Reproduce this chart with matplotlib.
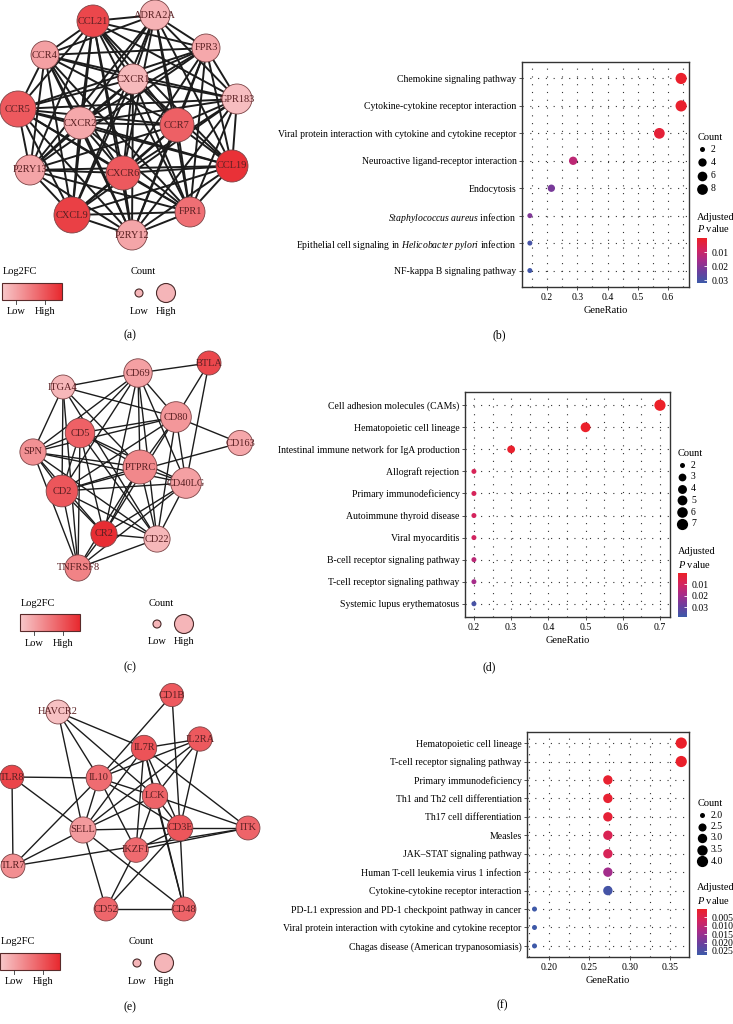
import numpy as np
import matplotlib
matplotlib.use('Agg')
import matplotlib.pyplot as plt
from itertools import combinations
from matplotlib.patches import Circle, Rectangle
from matplotlib.colors import LinearSegmentedColormap, Normalize
from matplotlib.cm import ScalarMappable
from matplotlib.ticker import MultipleLocator, FormatStrFormatter

plt.rcParams['font.family'] = ['Liberation Serif', 'DejaVu Serif']
plt.rcParams['mathtext.fontset'] = 'custom'
plt.rcParams['mathtext.rm'] = 'Liberation Serif'
plt.rcParams['mathtext.it'] = 'Liberation Serif:italic'

W, H = 733, 1024

# ---------------- network data ----------------
# (a) chemokine network
a_nodes = ['CCL21', 'ADRA2A', 'FPR3', 'CCR4', 'CXCR1', 'GPR183', 'CCR5', 'CXCR2',
           'CCR7', 'P2RY13', 'CXCR6', 'CCL19', 'CXCL9', 'FPR1', 'P2RY12']
a_log2fc = [3.46, 1.42, 1.60, 1.75, 1.30, 1.21, 3.10, 1.60, 2.98, 1.69, 3.10, 3.85, 3.58, 2.68, 1.66]
a_count = [12, 11, 10, 10, 11, 11, 14, 12, 13, 11, 13, 12, 14, 11, 11]
a_missing = [('ADRA2A', 'P2RY12'), ('GPR183', 'P2RY13'), ('CCR4', 'CCL19'),
             ('FPR3', 'CXCL9'), ('ADRA2A', 'CCR5')]
a_edges = [p for p in combinations(a_nodes, 2)
           if p not in a_missing and p[::-1] not in a_missing]
# layout (pixel positions of the drawing)
a_x = [93, 155, 206, 45, 133, 237, 18, 80, 177, 30, 123, 232, 72, 190, 132]
a_y = [21, 15, 48, 55, 79, 99, 109, 123, 125, 170, 173, 166, 215, 212, 235]

# (c) immune network
c_nodes = ['BTLA', 'CD69', 'ITGA4', 'CD80', 'CD163', 'CD5', 'SPN', 'PTPRC',
           'CD40LG', 'CD2', 'CR2', 'CD22', 'TNFRSF8']
c_log2fc = [3.46, 1.75, 1.33, 1.93, 1.63, 2.95, 2.05, 2.23, 1.75, 3.16, 3.94, 1.33, 2.32]
c_count = [3, 7, 3, 9, 4, 8, 5, 12, 9, 10, 5, 5, 5]
c_edges = [('BTLA', 'CD69'), ('BTLA', 'CD80'), ('BTLA', 'CD40LG'),
           ('CD69', 'ITGA4'), ('CD69', 'SPN'), ('CD69', 'CD5'), ('CD69', 'CD80'),
           ('CD69', 'PTPRC'), ('CD69', 'CD40LG'), ('CD69', 'CD22'), ('CD69', 'CR2'),
           ('CD69', 'CD2'), ('ITGA4', 'CD80'), ('ITGA4', 'SPN'), ('ITGA4', 'CD2'),
           ('ITGA4', 'PTPRC'), ('ITGA4', 'CD22'), ('ITGA4', 'TNFRSF8'),
           ('CD80', 'CD5'), ('CD80', 'SPN'), ('CD80', 'CD163'), ('CD80', 'PTPRC'),
           ('CD80', 'CD40LG'), ('CD80', 'CD2'), ('CD80', 'CR2'), ('CD80', 'CD22'),
           ('CD163', 'CD2'), ('CD5', 'SPN'), ('CD5', 'PTPRC'), ('CD5', 'CD40LG'),
           ('CD5', 'CD2'), ('CD5', 'CR2'), ('CD5', 'CD22'), ('CD5', 'TNFRSF8'),
           ('SPN', 'PTPRC'), ('SPN', 'CD40LG'), ('SPN', 'CD2'), ('SPN', 'CR2'),
           ('SPN', 'CD22'), ('SPN', 'TNFRSF8'), ('PTPRC', 'CD40LG'), ('PTPRC', 'CD2'),
           ('PTPRC', 'CR2'), ('PTPRC', 'TNFRSF8'), ('PTPRC', 'CD22'),
           ('CD40LG', 'CD2'), ('CD40LG', 'CR2'), ('CD40LG', 'TNFRSF8'),
           ('CD40LG', 'CD22'), ('CD2', 'CR2'), ('CD2', 'CD22'), ('CD2', 'TNFRSF8'),
           ('CR2', 'CD22'), ('CR2', 'TNFRSF8'), ('CD22', 'TNFRSF8')]
c_x = [209, 138, 63, 176, 240, 80, 33, 140, 186, 62, 104, 157, 78]
c_y = [363, 373, 387, 417, 443, 433, 452, 467, 483, 491, 534, 539, 568]

# (e) T-cell network
e_nodes = ['CD1B', 'HAVCR2', 'IL2RA', 'IL7R', 'TLR8', 'IL10', 'LCK', 'SELL',
           'CD3E', 'ITK', 'IKZF1', 'TLR7', 'CD52', 'CD48']
e_log2fc = [3.10, 1.15, 3.10, 3.22, 3.49, 2.74, 2.92, 1.87, 3.16, 2.89, 2.77, 2.11, 2.86, 2.89]
e_count = [2, 4, 5, 8, 3, 9, 8, 10, 9, 4, 6, 4, 4, 4]
e_edges = [('CD1B', 'IL10'), ('CD1B', 'CD3E'), ('HAVCR2', 'IL7R'), ('HAVCR2', 'IL10'),
           ('HAVCR2', 'SELL'), ('HAVCR2', 'LCK'), ('IL2RA', 'IL7R'), ('IL2RA', 'IL10'),
           ('IL2RA', 'SELL'), ('IL2RA', 'LCK'), ('IL2RA', 'CD3E'), ('IL7R', 'IL10'),
           ('IL7R', 'SELL'), ('IL7R', 'LCK'), ('IL7R', 'CD3E'), ('IL7R', 'IKZF1'),
           ('IL7R', 'ITK'), ('IL7R', 'CD48'), ('TLR8', 'IL10'), ('TLR8', 'TLR7'),
           ('TLR8', 'SELL'), ('IL10', 'LCK'), ('IL10', 'SELL'), ('IL10', 'CD3E'),
           ('IL10', 'IKZF1'), ('IL10', 'TLR7'), ('LCK', 'SELL'), ('LCK', 'CD3E'),
           ('LCK', 'IKZF1'), ('LCK', 'ITK'), ('LCK', 'CD48'), ('SELL', 'CD3E'),
           ('SELL', 'TLR7'), ('SELL', 'CD52'), ('SELL', 'CD48'), ('CD3E', 'ITK'),
           ('CD3E', 'IKZF1'), ('CD3E', 'CD52'), ('CD3E', 'CD48'), ('TLR7', 'ITK'),
           ('IKZF1', 'ITK'), ('IKZF1', 'CD52'), ('CD52', 'CD48')]
e_x = [172, 58, 200, 144, 12, 99, 155, 83, 180, 248, 136, 13, 106, 184]
e_y = [695, 712, 739, 748, 777, 778, 796, 830, 828, 828, 850, 866, 909, 909]

# ---------------- enrichment data ----------------
b_terms = ['Chemokine signaling pathway', 'Cytokine-cytokine receptor interaction',
           'Viral protein interaction with cytokine and cytokine receptor',
           'Neuroactive ligand-receptor interaction', 'Endocytosis',
           r'$\it{Staphylococcus\ aureus}$ infection',
           r'Epithelial cell signaling in $\it{Helicobacter\ pylori}$ infection',
           'NF-kappa B signaling pathway']
b_ratio = [0.643, 0.643, 0.571, 0.286, 0.214, 0.143, 0.143, 0.143]
b_count = [9, 9, 8, 4, 3, 2, 2, 2]
b_padj = [0.0008, 0.0010, 0.0025, 0.012, 0.022, 0.021, 0.030, 0.031]

d_terms = ['Cell adhesion molecules (CAMs)', 'Hematopoietic cell lineage',
           'Intestinal immune network for IgA production', 'Allograft rejection',
           'Primary immunodeficiency', 'Autoimmune thyroid disease', 'Viral myocarditis',
           'B-cell receptor signaling pathway', 'T-cell receptor signaling pathway',
           'Systemic lupus erythematosus']
d_ratio = [0.7, 0.5, 0.3, 0.2, 0.2, 0.2, 0.2, 0.2, 0.2, 0.2]
d_count = [7, 5, 3, 2, 2, 2, 2, 2, 2, 2]
d_padj = [0.0002, 0.0006, 0.0012, 0.0085, 0.009, 0.0095, 0.010, 0.015, 0.019, 0.036]

f_terms = ['Hematopoietic cell lineage', 'T-cell receptor signaling pathway',
           'Primary immunodeficiency', 'Th1 and Th2 cell differentiation',
           'Th17 cell differentiation', 'Measles', 'JAK\u2013STAT signaling pathway',
           'Human T-cell leukemia virus 1 infection', 'Cytokine-cytokine receptor interaction',
           'PD-L1 expression and PD-1 checkpoint pathway in cancer',
           'Viral protein interaction with cytokine and cytokine receptor',
           'Chagas disease (American trypanosomiasis)']
f_ratio = [0.364, 0.364, 0.273, 0.273, 0.273, 0.273, 0.273, 0.273, 0.273, 0.182, 0.182, 0.182]
f_count = [4, 4, 3, 3, 3, 3, 3, 3, 3, 2, 2, 2]
f_padj = [0.0005, 0.0006, 0.0012, 0.0014, 0.002, 0.0055, 0.006, 0.014, 0.026, 0.027, 0.027, 0.027]

# ---------------- styles ----------------
cmap_fc = LinearSegmentedColormap.from_list('fc', ['#f8c8ca', '#e82a30'])
norm_fc = Normalize(1.0, 4.0)
cmap_p = LinearSegmentedColormap.from_list(
    'p', ['#ec2027', '#d4245e', '#a52c8a', '#6a3f9e', '#3c5aa8'])
LABEL_COL = '#5a1f22'

fig = plt.figure(figsize=(W / 100, H / 100), dpi=100)
bg = fig.add_axes([0, 0, 1, 1], zorder=0)


def draw_network(names, xs, ys, fc, counts, edges, r_min, r_step, lw):
    pos = {n: (x, y) for n, x, y in zip(names, xs, ys)}
    for u, v in edges:
        bg.plot([pos[u][0], pos[v][0]], [pos[u][1], pos[v][1]],
                color='#1c1c1c', lw=lw, zorder=1)
    cmin = min(counts)
    for n, x, y, f, c in zip(names, xs, ys, fc, counts):
        r = r_min + r_step * (c - cmin)
        bg.add_patch(Circle((x, y), r, fc=cmap_fc(norm_fc(f)), ec='#7c4446',
                            lw=0.6, zorder=2))
        bg.text(x, y, n, ha='center', va='center', fontsize=7.5, color=LABEL_COL, zorder=3)


def net_legend(bx, ty):
    bg.text(bx + 1, ty, 'Log2FC', fontsize=7.5, va='center', ha='left')
    grad = np.linspace(0, 1, 100).reshape(1, -1)
    bg.imshow(grad, extent=(bx, bx + 60, ty + 28, ty + 11), cmap=cmap_fc,
              aspect='auto', zorder=2)
    bg.add_patch(Rectangle((bx, ty + 11), 60, 17, fill=False, ec='#5a2a2a', lw=0.8, zorder=3))
    for tx, lab in [(bx + 14, 'Low'), (bx + 43, 'High')]:
        bg.plot([tx, tx], [ty + 28, ty + 32], color='#333', lw=0.6, zorder=3)
        bg.text(tx, ty + 40, lab, fontsize=7.5, ha='center', va='center')
    bg.text(bx + 141, ty, 'Count', fontsize=7.5, ha='center', va='center')
    for cx, r, lab in [(bx + 137, 4, 'Low'), (bx + 164, 9.5, 'High')]:
        bg.add_patch(Circle((cx, ty + 21), r, fc='#f5b5b8', ec='#4a2a2a', lw=0.8, zorder=3))
        bg.text(cx, ty + 39, lab, fontsize=7.5, ha='center', va='center')


def dot_size(c, cmin, cmax):
    d_px = 5.0 + 6.2 * np.sqrt((np.asarray(c, float) - cmin) / (cmax - cmin))
    return (d_px * 0.72) ** 2


def dot_panel(box, terms, ratio, count, padj, xlim, xstep, minor, xfmt,
              vmax, leg_counts, leg_fmt, leg_pos, cbar_box, cbar_ticks, cbar_fmt):
    x0, x1, y0, y1 = box
    ax = fig.add_axes([x0 / W, 1 - y1 / H, (x1 - x0) / W, (y1 - y0) / H], zorder=2)
    n = len(terms)
    yy = np.arange(n)
    cmin, cmax = min(count), max(count)
    norm = Normalize(0.0, vmax)
    ax.set_xlim(*xlim)
    ax.set_ylim(n - 0.4, -0.6)
    ax.xaxis.set_major_locator(MultipleLocator(xstep))
    ax.xaxis.set_minor_locator(MultipleLocator(minor))
    ax.xaxis.set_major_formatter(FormatStrFormatter(xfmt))
    ax.grid(which='both', axis='x', color='#333', lw=0.8, ls=(0, (1, 6)), zorder=0)
    ax.grid(which='major', axis='y', color='#333', lw=0.8, ls=(0, (1, 6)), zorder=0)
    ax.set_axisbelow(True)
    ax.scatter(ratio, yy, s=dot_size(count, cmin, cmax), c=padj, cmap=cmap_p,
               norm=norm, lw=0, zorder=3, clip_on=False)
    ax.set_yticks(yy)
    ax.set_yticklabels(terms)
    ax.tick_params(which='major', length=2, width=0.6, labelsize=7, pad=2, color='#333')
    ax.tick_params(which='minor', length=0)
    ax.set_xlabel('GeneRatio', fontsize=7.5, labelpad=3)
    for s in ax.spines.values():
        s.set_linewidth(1.0)
        s.set_color('#333')
    # size legend
    lx, ly, lstep = leg_pos
    bg.text(lx, ly, 'Count', fontsize=7.5, va='center', ha='left')
    for i, c in enumerate(leg_counts):
        yi = ly + 11 + i * lstep
        bg.scatter([lx + 4], [yi], s=dot_size(c, cmin, cmax), color='black', lw=0, zorder=3)
        bg.text(lx + 13, yi, leg_fmt % c, fontsize=7, va='center', ha='left')
    # colour bar
    cx0, cx1, cy0, cy1 = cbar_box
    bg.text(cx0, cy0 - 21, 'Adjusted', fontsize=7.5, va='center', ha='left')
    bg.text(cx0, cy0 - 9, r'$\it{P}$ value', fontsize=7.5, va='center', ha='left')
    cax = fig.add_axes([cx0 / W, 1 - cy1 / H, (cx1 - cx0) / W, (cy1 - cy0) / H], zorder=2)
    cb = fig.colorbar(ScalarMappable(norm=norm, cmap=cmap_p), cax=cax)
    cb.outline.set_visible(False)
    cax.invert_yaxis()
    cb.set_ticks(cbar_ticks)
    cb.set_ticklabels([cbar_fmt % t for t in cbar_ticks])
    cax.tick_params(direction='in', length=2, width=0.6, color='white',
                    labelsize=7, pad=3)
    return ax


draw_network(a_nodes, a_x, a_y, a_log2fc, a_count, a_edges, 14.0, 1.0, 1.4)
draw_network(c_nodes, c_x, c_y, c_log2fc, c_count, c_edges, 12.0, 0.55, 1.0)
draw_network(e_nodes, e_x, e_y, e_log2fc, e_count, e_edges, 11.6, 0.18, 1.0)
net_legend(2, 272)
net_legend(20, 603)
net_legend(0, 942)

dot_panel((522, 689, 62, 287), b_terms, b_ratio, b_count, b_padj,
          (0.117, 0.669), 0.1, 0.05, '%.1f', 0.032,
          [2, 4, 6, 8], '%d', (698, 138, 13.3),
          (697, 707, 238, 283), [0.01, 0.02, 0.03], '%.2f')
dot_panel((465, 670, 392, 617), d_terms, d_ratio, d_count, d_padj,
          (0.176, 0.727), 0.1, 0.05, '%.1f', 0.0385,
          [2, 3, 4, 5, 6, 7], '%d', (678, 454, 11.8),
          (678, 687, 573, 617), [0.01, 0.02, 0.03], '%.2f')
dot_panel((527, 689, 732, 957), f_terms, f_ratio, f_count, f_padj,
          (0.1727, 0.3736), 0.05, 0.025, '%.2f', 0.0274,
          [2.0, 2.5, 3.0, 3.5, 4.0], '%.1f', (698, 804, 11.5),
          (697, 707, 909, 955), [0.005, 0.010, 0.015, 0.020, 0.025], '%.3f')

for lab, x, y in [('(a)', 130, 335), ('(b)', 499, 335), ('(c)', 130, 667),
                  ('(d)', 489, 667), ('(e)', 130, 1007), ('(f)', 502, 1005)]:
    bg.text(x, y, lab, fontsize=8.5, ha='center', va='center')

bg.set_xlim(0, W)
bg.set_ylim(H, 0)
bg.set_aspect('auto')
bg.axis('off')

fig.savefig('out.png', dpi=100)
